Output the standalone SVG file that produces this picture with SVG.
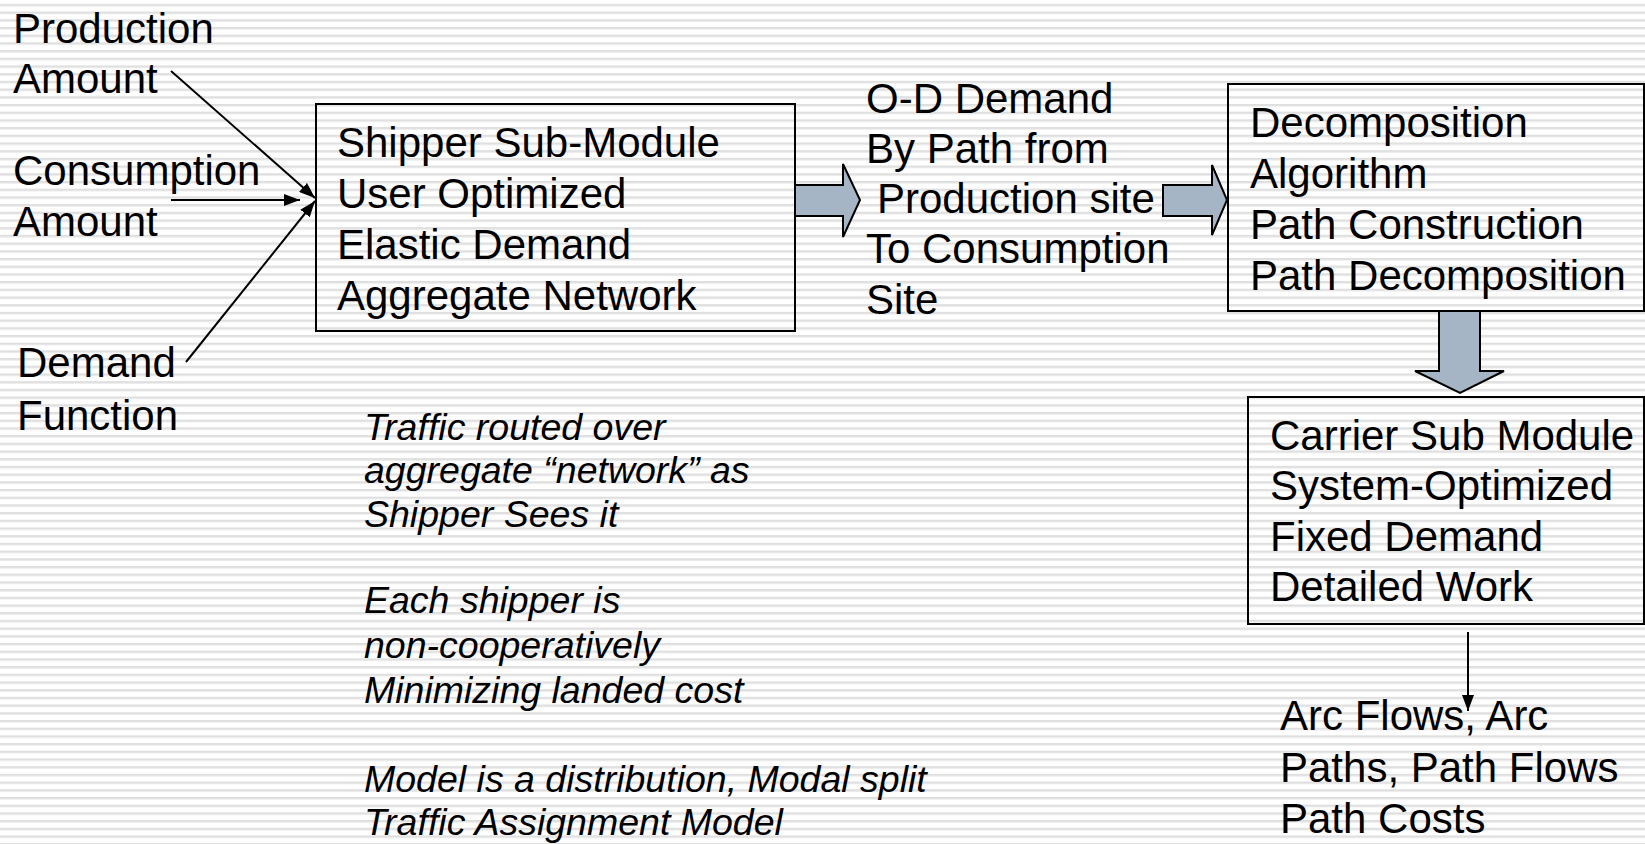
<svg xmlns="http://www.w3.org/2000/svg" width="1645" height="844" viewBox="0 0 1645 844">
  <defs>
    <!-- narrow horizontal line fill for the slide background -->
    <pattern id="stripes" x="0" y="0" width="16" height="7.7" patternUnits="userSpaceOnUse">
      <rect x="0" y="0" width="16" height="7.7" fill="#ffffff"/>
      <rect x="0" y="4" width="16" height="1.6" fill="#d9d9d9"/>
      <rect x="0" y="5.6" width="16" height="1" fill="#ececec"/>
    </pattern>
    <marker id="head" viewBox="0 0 16 12" refX="16" refY="6" markerWidth="16" markerHeight="12" markerUnits="userSpaceOnUse" orient="auto">
      <path d="M0,0 L16,6 L0,12 z" fill="#000"/>
    </marker>
    <style>
      .t { font-family: "Liberation Sans", Arial, sans-serif; font-size: 42px; fill: #000; }
      .it { font-family: "Liberation Sans", Arial, sans-serif; font-size: 37.5px; font-style: italic; fill: #000; }
      .box { fill: none; stroke: #000; stroke-width: 2; }
      .block { fill: #a6b5c5; stroke: #000; stroke-width: 2; stroke-linejoin: miter; }
      .link { fill: none; stroke: #000; stroke-width: 2; marker-end: url(#head); }
    </style>
  </defs>

  <rect x="0" y="0" width="1645" height="844" fill="url(#stripes)"/>

  <!-- input labels -->
  <g id="production">
    <text class="t" x="13" y="43">Production</text>
    <text class="t" x="13" y="93">Amount</text>
  </g>
  <g id="consumption">
    <text class="t" x="13" y="185">Consumption</text>
    <text class="t" x="13" y="236">Amount</text>
  </g>
  <g id="demand">
    <text class="t" x="17" y="377">Demand</text>
    <text class="t" x="17" y="430">Function</text>
  </g>

  <!-- shipper sub-module -->
  <g id="shipper">
    <rect class="box" x="316" y="104" width="479" height="227"/>
    <text class="t" x="337" y="157">Shipper Sub-Module</text>
    <text class="t" x="337" y="208">User Optimized</text>
    <text class="t" x="337" y="259">Elastic Demand</text>
    <text class="t" x="337" y="310">Aggregate Network</text>
  </g>

  <!-- O-D demand output -->
  <g id="od-demand">
    <text class="t" x="866" y="113">O-D Demand</text>
    <text class="t" x="866" y="163">By Path from</text>
    <text class="t" x="877" y="213">Production site</text>
    <text class="t" x="866" y="263">To Consumption</text>
    <text class="t" x="866" y="314">Site</text>
  </g>

  <!-- decomposition algorithm -->
  <g id="decomposition">
    <rect class="box" x="1228" y="84" width="416" height="227"/>
    <text class="t" x="1250" y="137">Decomposition</text>
    <text class="t" x="1250" y="188">Algorithm</text>
    <text class="t" x="1250" y="239">Path Construction</text>
    <text class="t" x="1250" y="290">Path Decomposition</text>
  </g>

  <!-- carrier sub module -->
  <g id="carrier">
    <rect class="box" x="1248" y="397" width="396" height="227"/>
    <text class="t" x="1270" y="450">Carrier Sub Module</text>
    <text class="t" x="1270" y="500">System-Optimized</text>
    <text class="t" x="1270" y="551">Fixed Demand</text>
    <text class="t" x="1270" y="601">Detailed Work</text>
  </g>

  <!-- carrier results -->
  <g id="results">
    <text class="t" x="1280" y="730">Arc Flows, Arc</text>
    <text class="t" x="1280" y="782">Paths, Path Flows</text>
    <text class="t" x="1280" y="833">Path Costs</text>
  </g>

  <!-- notes -->
  <g id="notes">
    <text class="it" x="364" y="440">Traffic routed over</text>
    <text class="it" x="364" y="483">aggregate “network” as</text>
    <text class="it" x="364" y="527">Shipper Sees it</text>
    <text class="it" x="364" y="613">Each shipper is</text>
    <text class="it" x="364" y="658">non-cooperatively</text>
    <text class="it" x="364" y="703">Minimizing landed cost</text>
    <text class="it" x="364" y="792">Model is a distribution, Modal split</text>
    <text class="it" x="364" y="835">Traffic Assignment Model</text>
  </g>

  <!-- connectors -->
  <g id="connectors">
    <line class="link" x1="171" y1="71" x2="315" y2="198"/>
    <line class="link" x1="171" y1="200" x2="300" y2="200"/>
    <line class="link" x1="186" y1="362" x2="315" y2="201"/>
    <polygon class="block" points="795,185 843,185 843,164 860,200 843,237 843,216 795,216"/>
    <polygon class="block" points="1163,185 1212,185 1212,165 1227,200 1212,235 1212,216 1163,216"/>
    <polygon class="block" points="1439,311 1480,311 1480,371 1504,371 1460,393 1415,371 1439,371"/>
    <line class="link" x1="1468" y1="632" x2="1468" y2="711"/>
  </g>
</svg>
